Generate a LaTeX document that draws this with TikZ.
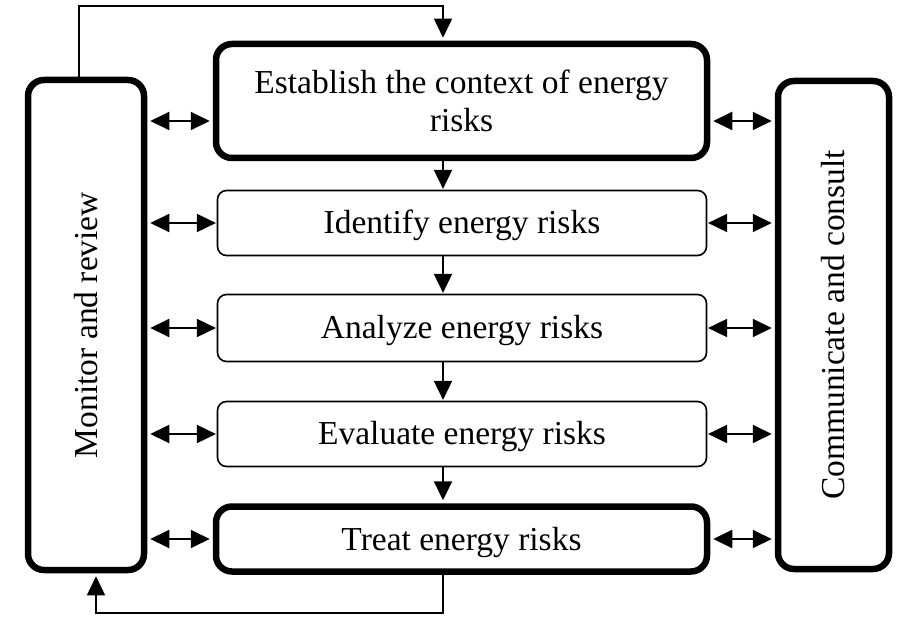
\documentclass[tikz,border=0pt]{standalone}
\usepackage{fontspec}
\setmainfont{Liberation Serif}
\usetikzlibrary{arrows.meta}
\begin{document}
\begin{tikzpicture}[x=1pt,y=-1pt,
  every node/.style={font=\fontsize{33.5}{38}\selectfont, inner sep=0pt},
  thickbox/.style={draw, line width=6.5pt, rounded corners=16pt, rectangle},
  thinbox/.style={draw, line width=1.6pt, rounded corners=9pt, rectangle,
    minimum width=489pt, minimum height=65pt, text height=22pt, text depth=0pt},
  flow/.style={line width=1.9pt, -{Triangle[length=19pt,width=18pt]}},
  biarrow/.style={line width=1.9pt, {Triangle[length=19pt,width=18pt]}-{Triangle[length=19pt,width=18pt]}},
]
\useasboundingbox (0,0) rectangle (897,617);

% side boxes
\node[thickbox, minimum width=116pt, minimum height=490pt] (mon) at (86,325) {};
\node[rotate=90] (monlbl) at (mon.center) {Monitor and review};
\node[thickbox, minimum width=111pt, minimum height=488pt] (com) at (833.5,325) {};
\node[rotate=90] (comlbl) at (com.center) {Communicate and consult};

% process boxes
\node[thickbox, minimum width=491pt, minimum height=114pt, align=center] (est) at (461.5,101)
  {Establish the context of energy\\risks};
\node[thinbox] (ide) at (462,223) {Identify energy risks};
\node[thinbox, minimum height=67pt] (ana) at (462,328) {Analyze energy risks};
\node[thinbox] (eva) at (462,434) {Evaluate energy risks};
\node[thickbox, minimum width=491pt, minimum height=65pt, text height=22pt, text depth=0pt] (tre) at (461.5,539)
  {Treat energy risks};

% helper coordinates
\coordinate (y1) at (0,121);
\coordinate (tl) at (79,6);
\coordinate (tr) at (443,6);
\coordinate (bl) at (96,613);
\coordinate (br) at (443,613);

% left two-way arrows
\draw[biarrow, shorten <=3pt, shorten >=3pt] (mon.east |- y1) -- (est.west |- y1);
\draw[biarrow, shorten <=3pt, shorten >=0.8pt] (mon.east |- ide.west) -- (ide.west);
\draw[biarrow, shorten <=3pt, shorten >=0.8pt] (mon.east |- ana.west) -- (ana.west);
\draw[biarrow, shorten <=3pt, shorten >=0.8pt] (mon.east |- eva.west) -- (eva.west);
\draw[biarrow, shorten <=3pt, shorten >=3pt] (mon.east |- tre.west) -- (tre.west);

% right two-way arrows
\draw[biarrow, shorten <=3pt, shorten >=3pt] (est.east |- y1) -- (com.west |- y1);
\draw[biarrow, shorten <=0.8pt, shorten >=3pt] (ide.east) -- (com.west |- ide.east);
\draw[biarrow, shorten <=0.8pt, shorten >=3pt] (ana.east) -- (com.west |- ana.east);
\draw[biarrow, shorten <=0.8pt, shorten >=3pt] (eva.east) -- (com.west |- eva.east);
\draw[biarrow, shorten <=3pt, shorten >=3pt] (tre.east) -- (com.west |- tre.east);

% downward flow
\draw[flow, shorten >=0.8pt] (est.south -| tr) -- (ide.north -| tr);
\draw[flow, shorten >=0.8pt] (ide.south -| tr) -- (ana.north -| tr);
\draw[flow, shorten >=0.8pt] (ana.south -| tr) -- (eva.north -| tr);
\draw[flow, shorten >=3pt] (eva.south -| tr) -- (tre.north -| tr);

% loops
\draw[flow, line width=1.5pt, shorten >=3pt] (mon.north -| tl) -- (tl) -- (tr) -- (est.north -| tr);
\draw[flow, line width=1.5pt, shorten >=3pt] (tre.south -| br) -- (br) -- (bl) -- (mon.south -| bl);
\end{tikzpicture}
\end{document}
